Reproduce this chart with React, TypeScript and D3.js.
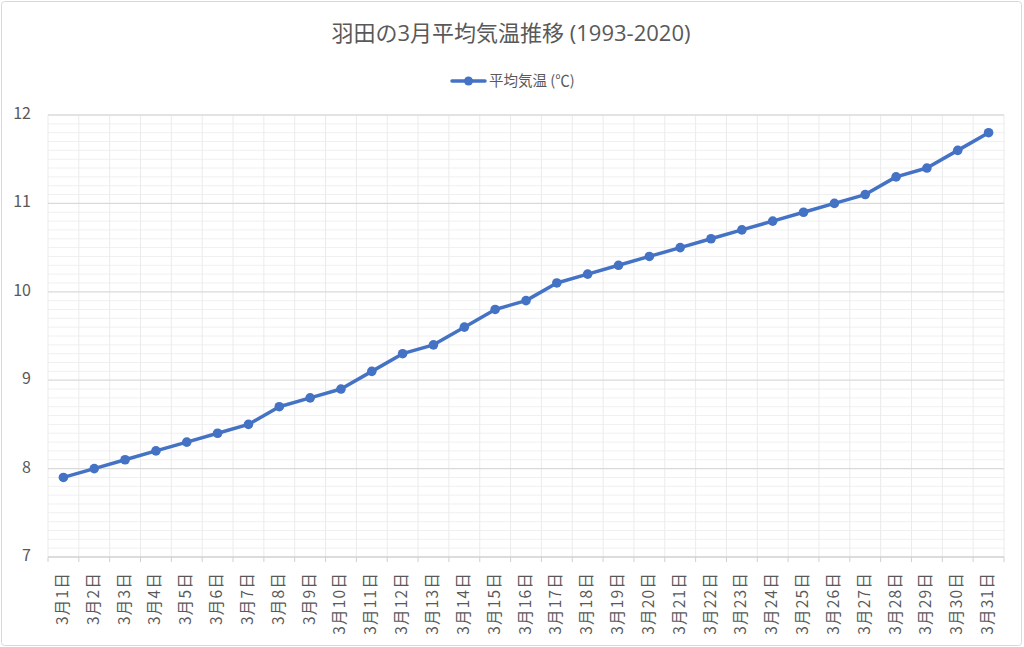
import React from "react";
import * as d3 from "d3";

const categories = Array.from({ length: 31 }, (_, i) => `3月${i + 1}日`);
const temps = [7.9, 8.0, 8.1, 8.2, 8.3, 8.4, 8.5, 8.7, 8.8, 8.9, 9.1, 9.3, 9.4, 9.6, 9.8, 9.9, 10.1, 10.2, 10.3, 10.4, 10.5, 10.6, 10.7, 10.8, 10.9, 11.0, 11.1, 11.3, 11.4, 11.6, 11.8];
const yTicks = [7, 8, 9, 10, 11, 12];
const title = "羽田の3月平均気温推移 (1993-2020)";
const seriesName = "平均気温 (℃)";

const W = 1024, H = 647;
const M = { left: 48, right: 1004, top: 115, bottom: 557 };
const FONT = "'Noto Sans CJK JP', 'Open Sans', sans-serif";
const TFONT = "'Open Sans', 'Noto Sans CJK JP', sans-serif";
const BLUE = "#4472C4";

export default function App() {
  const x = d3.scaleBand<string>().domain(categories).range([M.left, M.right]);
  const y = d3.scaleLinear().domain([7, 12]).range([M.bottom, M.top]);
  const minor = d3.range(70, 121).map((v) => v / 10).filter((v) => Math.abs(v - Math.round(v)) > 1e-6);
  const line = d3.line<number>().x((_, i) => x(categories[i])! + x.bandwidth() / 2).y((d) => y(d));
  return (
    <svg width={W} height={H} style={{ position: "absolute", left: 0, top: 0 }} fontFamily={FONT}>
      <rect x={0} y={0} width={W} height={H} fill="#fff" />
      <rect x={1.5} y={1.5} width={W - 4} height={H - 3} fill="none" stroke="#d9d9d9" rx={3} />
      <text x={511} y={41} textAnchor="middle" fontSize={22} fontFamily={TFONT} fill="#595959">{title}</text>
      {/* legend */}
      <line x1={452} x2={485} y1={81} y2={81} stroke={BLUE} strokeWidth={3.5} strokeLinecap="round" />
      <circle cx={468.5} cy={81} r={4.5} fill={BLUE} />
      <text x={489} y={86} fontSize={14.5} fill="#595959">{seriesName}</text>
      {/* minor grid */}
      {minor.map((v) => (
        <line key={"m" + v} x1={M.left} x2={M.right} y1={y(v)} y2={y(v)} stroke="#f0f0f0" strokeWidth={1} />
      ))}
      {/* vertical grid */}
      {categories.map((c, i) => (
        <line key={"v" + i} x1={x(c)!} x2={x(c)!} y1={M.top} y2={M.bottom} stroke="#ebebeb" strokeWidth={1} />
      ))}
      <line x1={M.right} x2={M.right} y1={M.top} y2={M.bottom} stroke="#ebebeb" />
      {/* major grid */}
      {yTicks.map((t) => (
        <g key={"y" + t}>
          <line x1={M.left} x2={M.right} y1={y(t)} y2={y(t)} stroke={t === 7 ? "#d0d0d0" : "#dadada"} strokeWidth={1.3} />
          <text x={31} y={y(t) + 4} textAnchor="end" fontSize={16} fill="#595959">{t}</text>
        </g>
      ))}
      {/* x ticks */}
      {categories.map((c, i) => (
        <line key={"t" + i} x1={x(c)!} x2={x(c)!} y1={M.bottom} y2={M.bottom + 5} stroke="#d0d0d0" />
      ))}
      <line x1={M.right} x2={M.right} y1={M.bottom} y2={M.bottom + 5} stroke="#d0d0d0" />
      {categories.map((c) => {
        const cx = x(c)! + x.bandwidth() / 2;
        return (
          <text key={"l" + c} transform={`translate(${cx + 4.5},572) rotate(-90)`} textAnchor="end" fontSize={15.5} letterSpacing={1.2} fill="#595959">{c}</text>
        );
      })}
      <path d={line(temps) || ""} fill="none" stroke={BLUE} strokeWidth={3.5} strokeLinejoin="round" />
      {temps.map((v, i) => (
        <circle key={"p" + i} cx={x(categories[i])! + x.bandwidth() / 2} cy={y(v)} r={4.8} fill={BLUE} />
      ))}
    </svg>
  );
}
